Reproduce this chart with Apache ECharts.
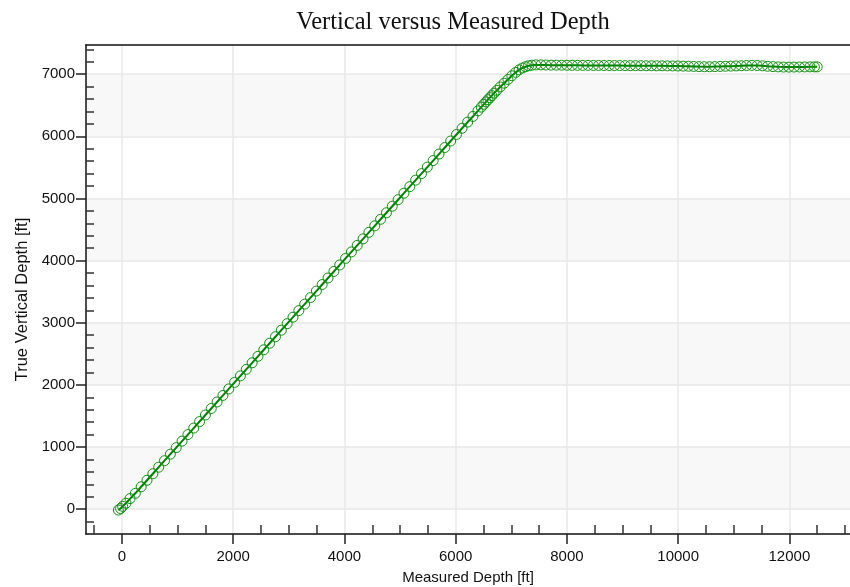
<!DOCTYPE html>
<html>
<head>
<meta charset="utf-8">
<script src="https://cdn.jsdelivr.net/npm/echarts@6/dist/echarts.min.js"></script>
<style>html,body{margin:0;padding:0;background:#fff}#chart{width:850px;height:587px}</style>
</head>
<body>
<div id="chart"></div>
<script>
const titleText = 'Vertical versus Measured Depth';
const xName = 'Measured Depth [ft]';
const yName = 'True Vertical Depth [ft]';
const xTicks = [0, 2000, 4000, 6000, 8000, 10000, 12000];
const yTicks = [0, 1000, 2000, 3000, 4000, 5000, 6000, 7000];
const xMinorStep = 500;
const yMinorStep = 200;

const md = [-65, -25, 12, 72, 145, 240, 345, 450, 555, 660, 765, 870, 975, 1080, 1185, 1290, 1395, 1500, 1605, 1710, 1815, 1920, 2025, 2130, 2235, 2340, 2445, 2550, 2655, 2760, 2865, 2970, 3075, 3180, 3285, 3390, 3495, 3600, 3705, 3810, 3915, 4020, 4125, 4230, 4335, 4440, 4545, 4650, 4755, 4860, 4965, 5070, 5175, 5280, 5385, 5490, 5595, 5700, 5805, 5910, 6015, 6115, 6215, 6310, 6400, 6460, 6505, 6545, 6580, 6615, 6650, 6690, 6740, 6800, 6870, 6940, 7010, 7080, 7140, 7200, 7255, 7310, 7370, 7440, 7530,
  7620, 7715, 7810, 7905, 8000, 8095, 8190, 8285, 8380, 8475, 8570, 8665, 8760, 8855, 8950, 9045, 9140, 9235, 9330, 9425, 9520, 9615, 9710, 9805, 9900, 9995, 10090, 10185, 10280, 10375, 10470, 10565, 10660, 10755, 10850, 10945, 11040, 11135, 11230, 11325, 11420, 11515, 11610, 11705, 11800, 11895, 11990, 12085, 12180, 12275, 12370, 12450, 12500];
const tvd = [-15, 10, 45, 95, 170, 255, 360, 465, 570, 675, 780, 885, 990, 1095, 1200, 1305, 1410, 1515, 1620, 1725, 1830, 1935, 2040, 2145, 2250, 2355, 2460, 2565, 2670, 2775, 2880, 2985, 3090, 3195, 3300, 3405, 3510, 3615, 3720, 3825, 3930, 4035, 4140, 4245, 4350, 4455, 4560, 4665, 4770, 4875, 4980, 5085, 5190, 5295, 5400, 5505, 5610, 5715, 5820, 5925, 6030, 6130, 6230, 6320, 6410, 6470, 6515, 6555, 6590, 6622, 6655, 6695, 6740, 6795, 6855, 6915, 6975, 7030, 7070, 7100, 7120, 7135, 7145, 7150, 7150,
  7148, 7146, 7145, 7145, 7144, 7143, 7143, 7142, 7142, 7141, 7141, 7140, 7140, 7139, 7139, 7138, 7138, 7137, 7137, 7136, 7136, 7135, 7135, 7134, 7133, 7132, 7130, 7128, 7125, 7122, 7120, 7120, 7122, 7125, 7128, 7130, 7133, 7136, 7140, 7142, 7140, 7135, 7128, 7122, 7118, 7115, 7114, 7115, 7116, 7117, 7118, 7118, 7118];

const points = md.map((m, i) => [m, tvd[i]]);

const X_MIN = -647, X_MAX = 13090, Y_MIN = -400, Y_MAX = 7470;
const lineCol = '#111';
const labelFont = {fontFamily: 'Liberation Sans', fontSize: 15, color: '#111'};
const plain = v => String(v);

const chart = echarts.init(document.getElementById('chart'), null, {renderer: 'canvas'});
chart.setOption({
  animation: false,
  backgroundColor: '#fff',
  title: {
    text: titleText, left: 453, top: 10, padding: 0, textAlign: 'center',
    textStyle: {fontFamily: 'Liberation Serif', fontSize: 24.5, fontWeight: 'normal', color: '#111'}
  },
  grid: {left: 86, right: 0, top: 45, bottom: 53, containLabel: false, outerBoundsMode: 'none'},
  xAxis: [{
    type: 'value', min: X_MIN, max: X_MAX,
    name: xName, nameLocation: 'middle', nameGap: 36,
    nameTextStyle: {fontFamily: 'Liberation Sans', fontSize: 15, color: '#111'},
    axisLine: {show: true, onZero: false, lineStyle: {color: lineCol, width: 1.5}},
    axisTick: {show: true, inside: false, length: 10, customValues: xTicks, lineStyle: {color: '#222', width: 1.5}},
    minorTick: {show: false},
    splitLine: {show: true, lineStyle: {color: '#e9e9e9', width: 1.5}},
    axisLabel: Object.assign({margin: 15, customValues: xTicks, formatter: plain}, labelFont)
  }, {
    type: 'value', position: 'bottom', min: X_MIN, max: X_MAX, splitNumber: 7,
    minInterval: 2000, maxInterval: 2000,
    axisLine: {show: false, onZero: false},
    axisTick: {show: false, inside: true},
    minorTick: {show: true, splitNumber: 2000 / xMinorStep, length: 9, lineStyle: {color: '#333', width: 1.5}},
    axisLabel: {show: false}, splitLine: {show: false}
  }, {
    type: 'value', position: 'top', min: X_MIN, max: X_MAX,
    axisLine: {show: true, onZero: false, lineStyle: {color: lineCol, width: 1.5}},
    axisTick: {show: false}, axisLabel: {show: false}, splitLine: {show: false}
  }],
  yAxis: [{
    type: 'value', min: Y_MIN, max: Y_MAX,
    name: yName, nameLocation: 'middle', nameGap: 55,
    nameTextStyle: {fontFamily: 'Liberation Sans', fontSize: 16.5, color: '#111', padding: [0, 20, 0, 0]},
    axisLine: {show: true, onZero: false, lineStyle: {color: lineCol, width: 1.5}},
    axisTick: {show: true, inside: false, length: 10, customValues: yTicks, lineStyle: {color: '#222', width: 1.5}},
    minorTick: {show: false},
    splitLine: {show: true, lineStyle: {color: '#e9e9e9', width: 1.5}},
    splitArea: {show: true, areaStyle: {color: ['#f8f8f8', 'rgba(255,255,255,0)']}},
    axisLabel: Object.assign({margin: 11, customValues: yTicks, formatter: plain}, labelFont)
  }, {
    type: 'value', position: 'left', min: Y_MIN, max: Y_MAX, splitNumber: 8,
    minInterval: 1000, maxInterval: 1000,
    axisLine: {show: false, onZero: false},
    axisTick: {show: false, inside: true},
    minorTick: {show: true, splitNumber: 1000 / yMinorStep, length: 8, lineStyle: {color: '#333', width: 1.5}},
    axisLabel: {show: false}, splitLine: {show: false}
  }],
  series: [{
    type: 'line', data: points, xAxisIndex: 0, yAxisIndex: 0,
    symbol: 'circle', symbolSize: 10, showAllSymbol: true,
    lineStyle: {color: '#008000', width: 2},
    itemStyle: {color: 'rgba(0,0,0,0)', borderColor: '#119011', borderWidth: 1},
    z: 3
  }]
});
</script>
</body>
</html>
